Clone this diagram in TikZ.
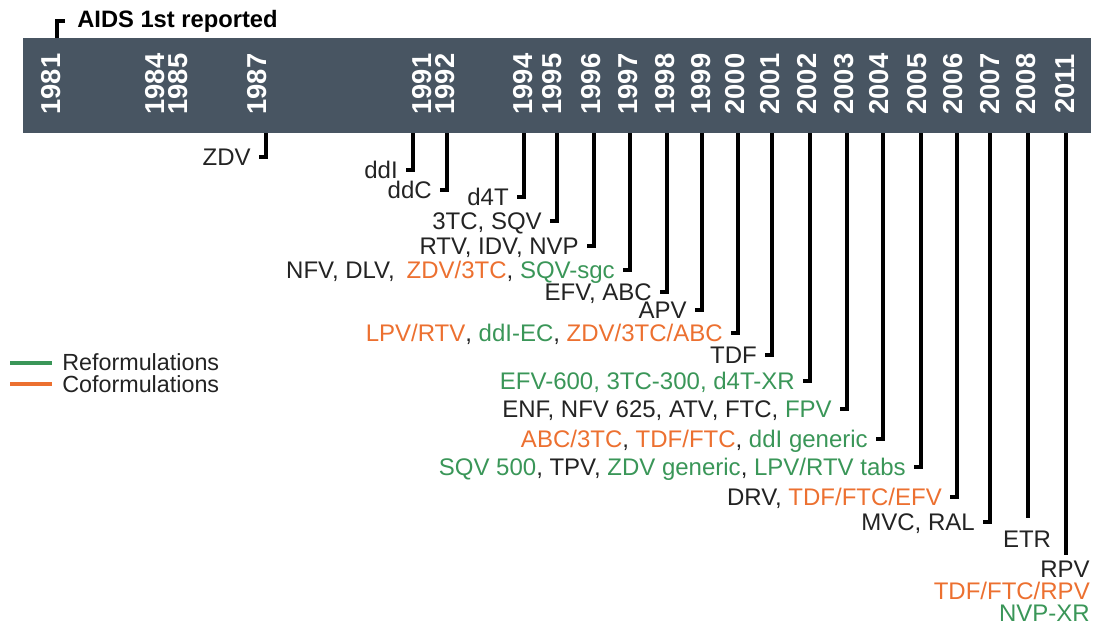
\documentclass[tikz,border=0pt]{standalone}
\usepackage{fontspec}
\setmainfont{Liberation Sans}
\definecolor{slate}{RGB}{72,85,98}
\definecolor{ink}{RGB}{35,35,35}
\definecolor{coform}{RGB}{236,112,48}
\definecolor{reform}{RGB}{58,150,88}
\tikzset{
  yearlbl/.style={rotate=90,text=white,inner sep=0pt,font=\fontsize{20.5}{20.5}\selectfont\bfseries},
  drug/.style={anchor=east,text=ink,inner xsep=6pt,inner ysep=0pt,text height=12.9pt,text depth=0pt,
    font=\fontsize{18}{15.75}\selectfont},
  druglist/.style={text=ink,inner sep=0pt,align=right,font=\fontsize{18}{16.5}\selectfont},
  legendlbl/.style={anchor=west,inner sep=0pt,text=ink,font=\fontsize{17.5}{17.5}\selectfont},
  tick/.style={black,line width=2.5pt},
}
\newcommand{\co}[1]{\textcolor{coform}{#1}}
\newcommand{\re}[1]{\textcolor{reform}{#1}}

\begin{document}
\begin{tikzpicture}[x=0.75pt,y=-0.75pt]
        \useasboundingbox (0,0) rectangle (1094,628);
        \fill[slate] (23,38) rectangle (1091,133);
        % years on the bar
        \foreach \yr/\px in {1981/51,1984/155,1985/178,1987/257,1991/422,1992/445,1994/523,1995/552,
            1996/591,1997/628,1998/665,1999/701,2000/735,2001/770,2002/807,2003/844,2004/879,
            2005/917,2006/953,2007/990,2008/1026,2011/1065}
          \node[yearlbl] (y\yr) at (\px,84) {\yr};
        % first report
        \coordinate (t81) at (57,38);
        \node[anchor=west,inner xsep=9pt,inner ysep=0pt,text=black,font=\fontsize{17.8}{18}\selectfont\bfseries]
          (aids) at (65,21) {AIDS 1st reported};
        \draw[tick] (t81) |- (aids.west);
        % approvals
        \foreach \n/\px in {87/266,91/413,92/447,94/524,95/557,96/594,97/630,98/667,99/702,00/738,
            01/772,02/810,03/847,04/883,05/921,06/957,07/990,08/1028,11/1066}
          \coordinate (t\n) at (\px,133);
        \node[drug] (l87) at (259,157) {ZDV};
        \node[drug] (l91) at (406,170) {ddI};
        \node[drug] (l92) at (440,190) {ddC};
        \node[drug] (l94) at (517,197) {d4T};
        \node[drug] (l95) at (550,221) {3TC, SQV};
        \node[drug] (l96) at (587,246) {RTV, IDV, NVP};
        \node[drug] (l97) at (623,270) {NFV, DLV,\enspace\co{ZDV/3TC}, \re{SQV-sgc}};
        \node[drug] (l98) at (660,292) {EFV, ABC};
        \node[drug] (l99) at (695,310) {APV};
        \node[drug] (l00) at (731,333) {\co{LPV/RTV}, \re{ddI-EC}, \co{ZDV/3TC/ABC}};
        \node[drug] (l01) at (765,355) {TDF};
        \node[drug] (l02) at (803,381) {\re{EFV-600, 3TC-300, d4T-XR}};
        \node[drug] (l03) at (840,409) {ENF, NFV 625, ATV, FTC, \re{FPV}};
        \node[drug] (l04) at (876,439) {\co{ABC/3TC}, \co{TDF/FTC}, \re{ddI generic}};
        \node[drug] (l05) at (914,467) {\re{SQV 500}, TPV, \re{ZDV generic}, \re{LPV/RTV tabs}};
        \node[drug] (l06) at (950,497) {DRV, \co{TDF/FTC/EFV}};
        \node[drug] (l07) at (983,522) {MVC, RAL};
        \foreach \n in {87,91,92,94,95,96,97,98,99,00,01,02,03,04,05,06,07}
          \draw[tick] (t\n) |- (l\n.east);
        % labels hanging below their lines
        \coordinate (e08) at (1028,518);
        \node[druglist,anchor=north] (l08) at (1027,531) {ETR};
        \draw[tick] (t08) -- (e08);
        \coordinate (e11) at (1066,555);
        \node[druglist,anchor=north east] (l11) at (1090,561) {RPV\\\co{TDF/FTC/RPV}\\\re{NVP-XR}};
        \draw[tick] (t11) -- (e11);
        % legend
        \node[legendlbl] (lre) at (62,362) {Reformulations};
        \node[legendlbl] (lco) at (62,384) {Coformulations};
        \draw[reform,line width=2.5pt] (10,363) -- (52,363);
        \draw[coform,line width=2.5pt] (10,384) -- (52,384);
\end{tikzpicture}
\end{document}
